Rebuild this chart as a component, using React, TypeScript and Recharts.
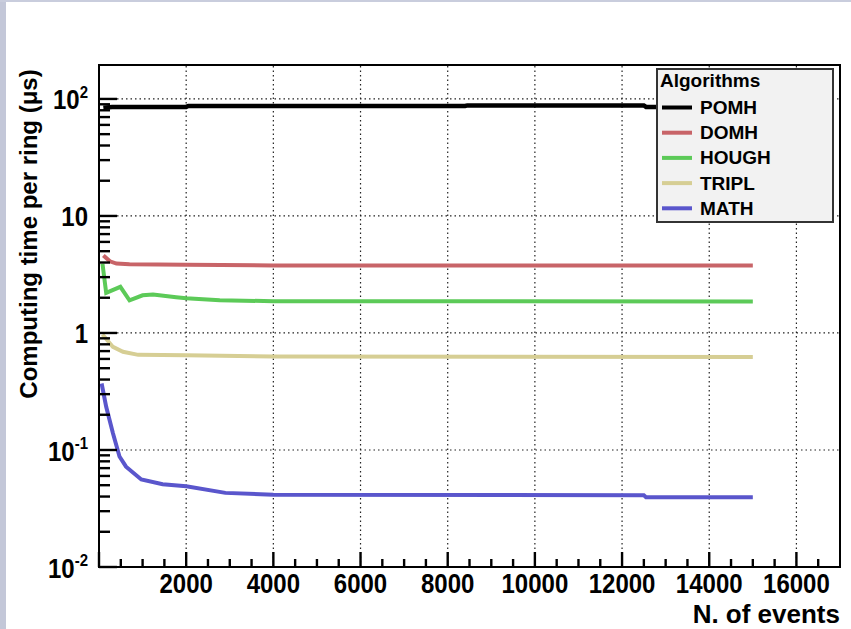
import React from "react"
import { LineChart, Line, XAxis, YAxis, ReferenceLine, ReferenceArea, Legend } from "recharts"

// series (N. of events vs computing time per ring, µs)
const pomhX = [100, 300, 2000, 2050, 8400, 8450, 12500, 12550, 15000]
const pomhY = [84, 85.5, 85.5, 87, 87, 88, 88, 85.5, 85.5]

const domhX = [100, 250, 400, 700, 2000, 4000, 15000]
const domhY = [4.6, 4.1, 3.92, 3.86, 3.82, 3.78, 3.78]

const houghX = [80, 165, 490, 700, 1000, 1240, 1770, 2000, 2770, 4000, 15000]
const houghY = [3.9, 2.2, 2.48, 1.9, 2.1, 2.13, 2.02, 1.98, 1.9, 1.87, 1.86]

const triplX = [80, 320, 550, 900, 2000, 4000, 15000]
const triplY = [0.97, 0.76, 0.69, 0.65, 0.645, 0.63, 0.622]

const mathX = [60, 165, 320, 470, 620, 970, 1460, 2000, 2900, 4000, 12500, 12550, 15000]
const mathY = [0.37, 0.234, 0.139, 0.088, 0.072, 0.056, 0.051, 0.049, 0.043, 0.0415, 0.041, 0.0395, 0.0395]

const seriesNames = ["POMH", "DOMH", "HOUGH", "TRIPL", "MATH"]
const seriesColors = ["#000000", "#c86468", "#5cca58", "#d6ce94", "#5a56cc"]
const seriesWidths = [4.5, 4, 4, 4, 4]

const xMajorTicks = [0, 2000, 4000, 6000, 8000, 10000, 12000, 14000, 16000]
const xMinorTicks = Array.from({ length: 34 }, (_, i) => i * 500)
const xGrid = [2000, 4000, 6000, 8000, 10000, 12000, 14000, 16000]

const yDecades = [0.01, 0.1, 1, 10, 100]
const yDecadeLabels = [
  { base: "10", exp: "-2" },
  { base: "10", exp: "-1" },
  { base: "1", exp: "" },
  { base: "10", exp: "" },
  { base: "10", exp: "2" },
]
const yMinorMult = [1, 2, 3, 4, 5, 6, 7, 8, 9]
const yTicks = yDecades.slice(0, 4).flatMap((d) => yMinorMult.map((m) => +(d * m).toPrecision(3))).concat([100])
const yGrid = [0.1, 1, 10, 100]

const zip = (xs: number[], ys: number[]) => xs.map((x, i) => ({ x, y: ys[i] }))
const seriesData = [zip(pomhX, pomhY), zip(domhX, domhY), zip(houghX, houghY), zip(triplX, triplY), zip(mathX, mathY)]

const FONT = '"Liberation Sans", Arial, Helvetica, sans-serif'

const XTick = (props: any) => {
  const { x, y, payload } = props
  const v = payload.value
  const major = xMajorTicks.includes(v)
  const len = major ? 15 : 8
  return (
    <g>
      <path d={`M${x},${y}V${y - len}`} stroke="#000" strokeWidth={2.4} fill="none" />
      {major && v > 0 && (
        <g transform={`translate(${x},${y})`}>
          <text transform="scale(1,1.15)" y={22.6} textAnchor="middle" fontFamily={FONT} fontWeight="bold" fontSize={24} fill="#000">
            {v}
          </text>
        </g>
      )}
    </g>
  )
}

const YTick = (props: any) => {
  const { x, y, payload } = props
  const idx = yDecades.indexOf(payload.value)
  const major = idx >= 0
  const lab = major ? yDecadeLabels[idx] : null
  const len = major ? 18 : 11
  return (
    <g>
      <path d={`M${x},${y}H${x + len}`} stroke="#000" strokeWidth={2.4} fill="none" />
      {lab && (
        <g transform={`translate(${x - 11},${y + 2})`}>
          <text transform="scale(1,1.15)" y={7.4} textAnchor="end" fontFamily={FONT} fontWeight="bold" fontSize={24} fill="#000">
            <tspan>{lab.base}</tspan>
            {lab.exp && (
              <tspan dy={-10} fontSize={15}>
                {lab.exp}
              </tspan>
            )}
          </text>
        </g>
      )}
    </g>
  )
}

const XTitle = () => (
  <text x={840} y={623} textAnchor="end" fontFamily={FONT} fontWeight="bold" fontSize={26} fill="#000">
    N. of events
  </text>
)

const YTitle = () => (
  <text
    x={37}
    y={234}
    transform="rotate(-90 37 234)"
    textAnchor="middle"
    fontFamily={FONT}
    fontWeight="bold"
    fontSize={24}
    fill="#000"
  >
    Computing time per ring (μs)
  </text>
)

const LegendBox = () => (
  <svg width={178} height={155} style={{ display: "block" }}>
    <rect x={1} y={1} width={176} height={153} fill="#f2f2f2" stroke="#333" strokeWidth={2} />
    <text x={4} y={19} fontFamily={FONT} fontWeight="bold" fontSize={19} fill="#000">
      Algorithms
    </text>
    {seriesNames.map((name, i) => (
      <g key={name}>
        <line x1={6} x2={36} y1={39.5 + i * 25.2} y2={39.5 + i * 25.2} stroke={seriesColors[i]} strokeWidth={4} />
        <text x={44} y={46 + i * 25.2} fontFamily={FONT} fontWeight="bold" fontSize={19} fill="#000">
          {name}
        </text>
      </g>
    ))}
  </svg>
)

export default function App() {
  return (
    <div style={{ position: "absolute", left: 0, top: 0, width: 851, height: 629, background: "#fff", overflow: "hidden" }}>
      <div style={{ position: "absolute", left: 0, top: 0, width: 6, height: 629, background: "#c3c7d8" }} />
      <div style={{ position: "absolute", left: 0, top: 0, width: 851, height: 2, background: "#c9cddd" }} />
      <LineChart
        width={851}
        height={629}
        margin={{ top: 65, right: 11, left: 0, bottom: 0 }}
        style={{ position: "absolute", left: 0, top: 0 }}
      >
        <XAxis
          type="number"
          dataKey="x"
          domain={[0, 17000]}
          allowDataOverflow
          ticks={xMinorTicks}
          interval={0}
          height={62}
          tickSize={0}
          tickMargin={0}
          tickLine={false}
          tick={<XTick />}
          axisLine={{ stroke: "#000", strokeWidth: 2 }}
          label={<XTitle />}
        />
        <YAxis
          type="number"
          scale="log"
          domain={[0.01, 195]}
          allowDataOverflow
          ticks={yTicks}
          interval={0}
          width={99}
          tickSize={0}
          tickMargin={0}
          tickLine={false}
          tick={<YTick />}
          axisLine={{ stroke: "#000", strokeWidth: 2 }}
          label={<YTitle />}
        />
        {yGrid.map((v) => (
          <ReferenceLine key={`gy${v}`} y={v} stroke="#222" strokeWidth={1.2} strokeDasharray="1.5 3" />
        ))}
        {xGrid.map((v) => (
          <ReferenceLine key={`gx${v}`} x={v} stroke="#222" strokeWidth={1.2} strokeDasharray="1.5 3" />
        ))}
        <ReferenceArea x1={0} x2={17000} y1={0.01} y2={195} fill="none" stroke="#000" strokeWidth={2} ifOverflow="visible" />
        {seriesNames.map((name, i) => (
          <Line
            key={name}
            name={name}
            data={seriesData[i]}
            dataKey="y"
            type="linear"
            stroke={seriesColors[i]}
            strokeWidth={seriesWidths[i]}
            dot={false}
            activeDot={false}
            isAnimationActive={false}
          />
        ))}
        <Legend
          layout="vertical"
          align="center"
          verticalAlign="middle"
          content={() => <LegendBox />}
          wrapperStyle={{ position: "absolute", left: 656, top: 68, width: 178, height: 155 }}
        />
      </LineChart>
    </div>
  )
}
